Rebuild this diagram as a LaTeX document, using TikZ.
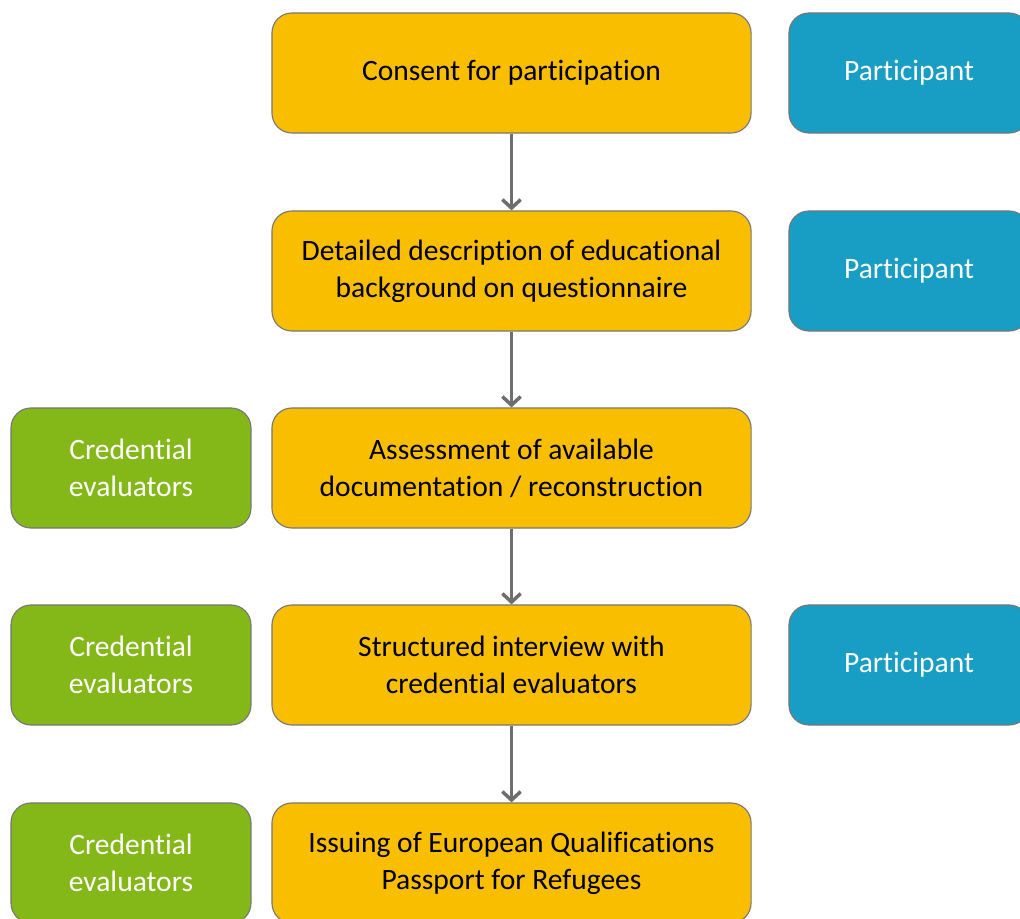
\documentclass[tikz,border=0pt]{standalone}
\usepackage{fontspec}
\setmainfont{Carlito}[Ligatures={NoCommon}]
\usetikzlibrary{arrows.meta}

\definecolor{stepyellow}{HTML}{FABE00}
\definecolor{whoblue}{HTML}{189EC4}
\definecolor{whogreen}{HTML}{84B819}
\definecolor{rimgray}{HTML}{777777}
\definecolor{arrowgray}{HTML}{6E6E6E}

\tikzset{
	box/.style={draw=rimgray,line width=0.8pt,rounded corners=0.5cm,
		minimum height=3cm,align=center,font=\fontsize{21}{26.3}\selectfont},
	stepbox/.style={box,fill=stepyellow,text=black,minimum width=11.975cm},
	participant/.style={box,fill=whoblue,text=white,minimum width=6cm},
	evaluator/.style={box,fill=whogreen,text=white,minimum width=6cm},
	flow/.style={draw=arrowgray,line width=2.5pt,-{Straight Barb[length=6pt,width=13pt,line width=2.5pt]}}
}

\begin{document}
\begin{tikzpicture}[x=0.025cm,y=-0.025cm]
\useasboundingbox (0,0) rectangle (1020,919);
\clip (0,0) rectangle (1020,919);

% main steps
\node[stepbox] (consent) at (511.5,73) {Consent for participation};
\node[stepbox] (questionnaire) at (511.5,271) {Detailed description of educational\\background on questionnaire};
\node[stepbox] (assessment) at (511.5,468) {Assessment of available\\documentation / reconstruction};
\node[stepbox] (interview) at (511.5,665) {Structured interview with\\credential evaluators};
\node[stepbox] (passport) at (511.5,863) {Issuing of European Qualifications\\Passport for Refugees};

% who is involved
\node[participant] (part1) at (909,73) {Participant};
\node[participant] (part2) at (909,271) {Participant};
\node[participant] (part4) at (909,665) {Participant};

\node[evaluator] (eval3) at (131,468) {Credential\\evaluators};
\node[evaluator] (eval4) at (131,665) {Credential\\evaluators};
\node[evaluator] (eval5) at (131,863) {Credential\\evaluators};

\draw[flow] (consent) -- (questionnaire);
\draw[flow] (questionnaire) -- (assessment);
\draw[flow] (assessment) -- (interview);
\draw[flow] (interview) -- (passport);

\end{tikzpicture}
\end{document}
